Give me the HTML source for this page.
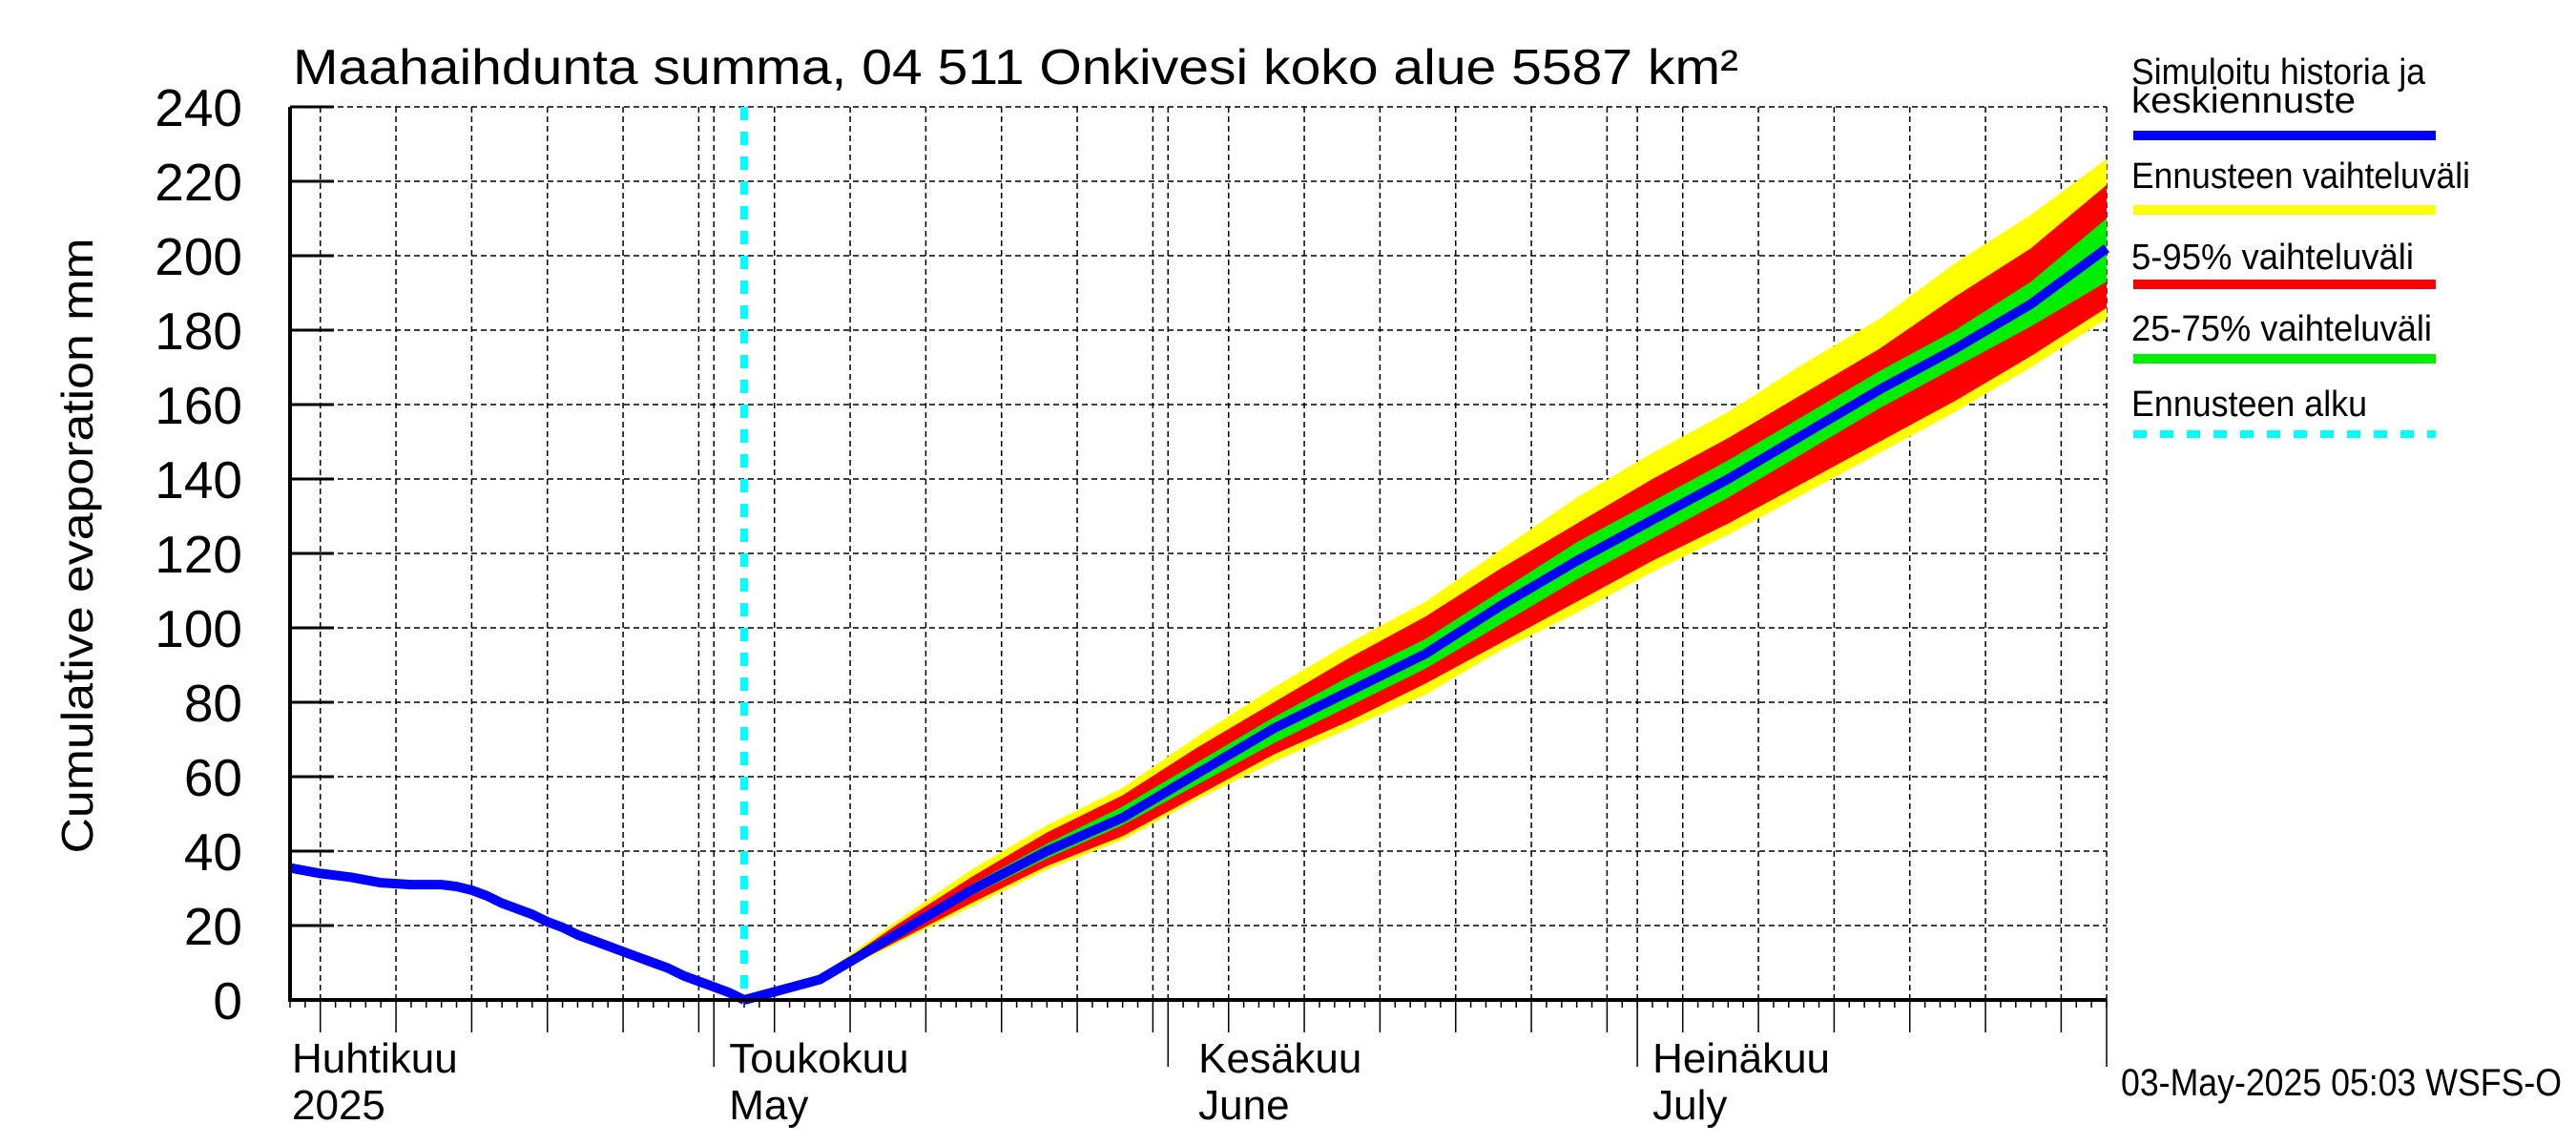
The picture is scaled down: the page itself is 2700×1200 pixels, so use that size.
<!DOCTYPE html>
<html><head><meta charset="utf-8"><style>
html,body{margin:0;padding:0;background:#fff}
svg{display:block}
text{font-family:"Liberation Sans",sans-serif;fill:#000}
</style></head><body>
<svg id="chart" width="2700" height="1200" viewBox="0 0 2700 1200" xmlns="http://www.w3.org/2000/svg">
<text x="307" y="88" font-size="52" textLength="1515" lengthAdjust="spacingAndGlyphs">Maahaihdunta summa, 04 511 Onkivesi koko alue 5587 km²</text>
<text transform="translate(97,572) rotate(-90)" text-anchor="middle" font-size="46" textLength="645" lengthAdjust="spacingAndGlyphs">Cumulative evaporation   mm</text>
<g id="grid"></g>
<g id="bands"></g>
<g id="lines"></g>
<g id="axes"></g>
<g>
<text x="2234" y="88" font-size="38" textLength="308" lengthAdjust="spacingAndGlyphs">Simuloitu historia ja</text>
<text x="2234" y="118" font-size="38" textLength="235" lengthAdjust="spacingAndGlyphs">keskiennuste</text>
<line x1="2236" y1="142" x2="2553" y2="142" stroke="#0000ff" stroke-width="10"/>
<text x="2234" y="197" font-size="38" textLength="355" lengthAdjust="spacingAndGlyphs">Ennusteen vaihteluväli</text>
<line x1="2236" y1="220" x2="2553" y2="220" stroke="#ffff00" stroke-width="10"/>
<text x="2234" y="282" font-size="38" textLength="296" lengthAdjust="spacingAndGlyphs">5-95% vaihteluväli</text>
<line x1="2236" y1="298" x2="2553" y2="298" stroke="#ff0000" stroke-width="10"/>
<text x="2234" y="357" font-size="38" textLength="315" lengthAdjust="spacingAndGlyphs">25-75% vaihteluväli</text>
<line x1="2236" y1="376" x2="2553" y2="376" stroke="#00ee00" stroke-width="10"/>
<text x="2234" y="436" font-size="38" textLength="247" lengthAdjust="spacingAndGlyphs">Ennusteen alku</text>
<line x1="2236" y1="455" x2="2553" y2="455" stroke="#00ffff" stroke-width="8" stroke-dasharray="14,14"/>
</g>
<text x="2223" y="1148" font-size="40" textLength="462" lengthAdjust="spacingAndGlyphs">03-May-2025 05:03 WSFS-O</text>
</svg>
<script>
// day index 0 = 3 April 2025
const histDays = [0,2,4,6,8,10,11,12,13,14,15,16,17,18,19,20,21,22,23,24,25,26,27,28,29,30];
const histVals = [35.5,34,33,31.5,31,31,30.5,29.5,28,26,24.5,23,21,19.5,17.5,16,14.5,13,11.5,10,8.5,6.5,5,3.5,2,0];
const fcDays = [30,35,40,45,50,55,60,65,70,75,80,85,90,95,100,105,110,115,120];
const fcMedian = [0,5.5,17.5,29.5,40,49,61,73,83,93,106,118,129,140,152,164,175,187,202];
const fcMax = [0,6.5,21,35,47,57,71,84,96,107,121,135,147,158,171,183,198,211,226];
const fcMin = [0,5,15,25,35,43,54,64,73,82,94,104,115,125,136,147,158,170,183];
const fc95 = [0,6,20,33,45,55,68,80,92,103,116,128,140,151,163,175,189,202,219];
const fc05 = [0,5,15.5,26,36,44,55,66,75,85,96,107,118,128,139,150,161,173,186];
const fc75 = [0,5.8,18.5,31,42,52,64,76,87,97,110,123,134,145,157,169,180,193,210];
const fc25 = [0,5.2,16.5,28,38,47,58,69,79,89,101,113,124,135,147,159,170,181,193];
const yTicks = [0,20,40,60,80,100,120,140,160,180,200,220,240];
const monthDays = [28,58,89,120];
const monthLabels = [["Huhtikuu","2025"],["Toukokuu","May"],["Kesäkuu","June"],["Heinäkuu","July"]];
const monthLabelDays = [0,28,59,89];
const forecastStartDay = 30;

const X0=304, X1=2208, DAYS=120, Y0=1048, Y1=112, YMAX=240;
const xs=d=>X0+(X1-X0)*d/DAYS;
const ys=v=>Y0-(Y0-Y1)*v/YMAX;
const NS="http://www.w3.org/2000/svg";
function mk(parent,tag,attrs){const e=document.createElementNS(NS,tag);for(const k in attrs)e.setAttribute(k,attrs[k]);parent.appendChild(e);return e;}
const grid=document.getElementById('grid'),bands=document.getElementById('bands'),lines=document.getElementById('lines'),axes=document.getElementById('axes');

for(let d=2; d<=DAYS; d+=5){
  const g=mk(grid,'line',{x1:xs(d),y1:Y1,x2:xs(d),y2:Y0,stroke:'#000','stroke-width':1.5,'stroke-dasharray':'6,4'});
  
  
}
for(const m of monthDays){
  const g=mk(grid,'line',{x1:xs(m),y1:Y1,x2:xs(m),y2:Y0,stroke:'#000','stroke-width':1.5,'stroke-dasharray':'6,4'});
  
  
}
for(const v of yTicks){
  if(v===0) continue;
  const g=mk(grid,'line',{x1:X0,y1:ys(v),x2:X1,y2:ys(v),stroke:'#000','stroke-width':1.5,'stroke-dasharray':'6,4'});
  
  
}

function band(hi,lo,color,name){
  let p='M'+fcDays.map((d,i)=>xs(d)+','+ys(hi[i])).join(' L');
  for(let i=fcDays.length-1;i>=0;i--) p+=' L'+xs(fcDays[i])+','+ys(lo[i]);
  const e=mk(bands,'path',{d:p+'Z',fill:color});
  
  
}
band(fcMax,fcMin,'#ffff00','band-range');
band(fc95,fc05,'#ff0000','band-5-95');
band(fc75,fc25,'#00ee00','band-25-75');

const cy=mk(lines,'line',{x1:xs(forecastStartDay),y1:Y1,x2:xs(forecastStartDay),y2:Y0,stroke:'#00ffff','stroke-width':8,'stroke-dasharray':'14,12'});



const hl=mk(lines,'polyline',{points:histDays.map((d,i)=>xs(d)+','+ys(histVals[i])).join(' '),fill:'none',stroke:'#0000ff','stroke-width':10,'stroke-linejoin':'round'});


const ml=mk(lines,'polyline',{points:fcDays.map((d,i)=>xs(d)+','+ys(fcMedian[i])).join(' '),fill:'none',stroke:'#0000ff','stroke-width':10,'stroke-linejoin':'round'});



const ax=mk(axes,'path',{d:`M${X0},${Y1} L${X0},${Y0} L${X1},${Y0}`,fill:'none',stroke:'#000','stroke-width':4});


for(const v of yTicks){
  const t=mk(axes,'line',{x1:X0,y1:ys(v),x2:X0+46,y2:ys(v),stroke:'#000','stroke-width':3});
  
  
  const l=mk(axes,'text',{x:254,y:ys(v)+20,'text-anchor':'end','font-size':55});
  l.textContent=v;
  
  
}
for(let d=0; d<=DAYS; d++){
  const major=(d-2)%5===0;
  const t=mk(axes,'line',{x1:xs(d),y1:Y0,x2:xs(d),y2:Y0+(major?34:8),stroke:'#000','stroke-width':1.5});
  
  
}
for(const m of monthDays){
  const t=mk(axes,'line',{x1:xs(m),y1:Y0,x2:xs(m),y2:1118,stroke:'#000','stroke-width':1.5});
  
  
}
monthLabels.forEach((lab,i)=>{
  const x=i===0?X0+2:xs(monthLabelDays[i])+16;
  const a=mk(axes,'text',{x:x,y:1124,'font-size':44});
  a.textContent=lab[0];
  
  
  const b=mk(axes,'text',{x:x,y:1173,'font-size':44});
  b.textContent=lab[1];
  
  
});
</script>
</body></html>
